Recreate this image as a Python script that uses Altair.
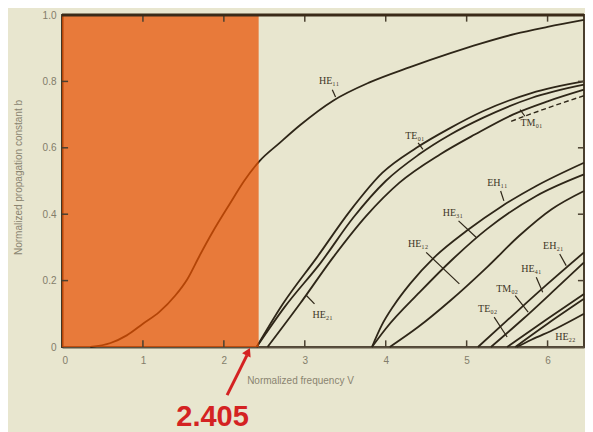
import altair as alt
import pandas as pd

# ---------------- data ----------------
V_MAX = 6.45
SHADE_END = 2.43          # orange region (single-mode, V < 2.405)

he11_v = [0.35, 0.6, 0.8, 1.0, 1.2, 1.4, 1.55, 1.7, 1.87, 2.07, 2.25, 2.44, 2.69, 2.94, 3.35, 3.8, 4.3, 4.8, 5.16, 5.6, 6.0, 6.45]
he11_b = [0.0, 0.012, 0.035, 0.07, 0.105, 0.155, 0.205, 0.275, 0.35, 0.43, 0.5, 0.56, 0.615, 0.668, 0.742, 0.797, 0.843, 0.885, 0.913, 0.943, 0.964, 0.985]

te01_v = [2.405, 2.73, 3.15, 3.56, 3.96, 4.38, 4.8, 5.2, 5.8, 6.45]
te01_b = [0.0, 0.13, 0.27, 0.41, 0.525, 0.60, 0.66, 0.71, 0.765, 0.80]

tm01_v = [2.405, 2.75, 3.2, 3.6, 4.0, 4.4, 4.8, 5.2, 5.8, 6.45]
tm01_b = [0.0, 0.12, 0.255, 0.39, 0.50, 0.578, 0.64, 0.69, 0.75, 0.79]

he21_v = [2.54, 2.94, 3.35, 3.76, 4.17, 4.67, 5.1, 5.57, 6.0, 6.45]
he21_b = [0.0, 0.13, 0.27, 0.395, 0.495, 0.58, 0.64, 0.70, 0.74, 0.775]

dash_v = [5.55, 6.0, 6.45]
dash_b = [0.68, 0.72, 0.757]

eh11_v = [3.83, 3.95, 4.1, 4.3, 4.6, 5.0, 5.44, 5.86, 6.45]
eh11_b = [0.0, 0.065, 0.125, 0.19, 0.27, 0.35, 0.425, 0.485, 0.555]

he31_v = [3.83, 4.0, 4.42, 4.83, 5.25, 5.86, 6.45]
he31_b = [0.0, 0.055, 0.165, 0.265, 0.355, 0.455, 0.52]

he12_v = [4.05, 4.4, 4.8, 5.25, 5.65, 6.05, 6.45]
he12_b = [0.0, 0.06, 0.14, 0.24, 0.335, 0.415, 0.47]

eh21_v = [5.14, 5.5, 6.0, 6.45]
eh21_b = [0.0, 0.08, 0.19, 0.285]

he41_v = [5.3, 5.7, 6.1, 6.45]
he41_b = [0.0, 0.085, 0.175, 0.255]

tm02_v = [5.5, 6.0, 6.45]
tm02_b = [0.0, 0.085, 0.16]

te02_v = [5.6, 6.0, 6.45]
te02_b = [0.0, 0.07, 0.145]

he22_v = [5.62, 5.8, 6.1, 6.45]
he22_b = [0.0, 0.022, 0.055, 0.10]

label_text = ["HE₁₁", "TE₀₁", "TM₀₁", "HE₂₁", "EH₁₁", "HE₃₁", "HE₁₂", "EH₂₁", "HE₄₁", "TM₀₂", "TE₀₂", "HE₂₂"]
label_v = [3.30, 4.36, 5.80, 3.22, 5.38, 4.83, 4.40, 6.07, 5.80, 5.50, 5.26, 6.22]
label_b = [0.80, 0.635, 0.675, 0.095, 0.495, 0.405, 0.31, 0.305, 0.235, 0.175, 0.115, 0.03]

lead_v1 = [3.34, 4.40, 5.72, 3.12, 5.42, 4.90, 4.50, 6.15, 5.86, 5.60, 5.34]
lead_b1 = [0.775, 0.615, 0.695, 0.13, 0.47, 0.38, 0.285, 0.28, 0.21, 0.155, 0.09]
lead_v2 = [3.38, 4.46, 5.66, 3.02, 5.46, 5.12, 4.91, 6.23, 5.94, 5.76, 5.50]
lead_b2 = [0.753, 0.595, 0.715, 0.155, 0.44, 0.33, 0.19, 0.245, 0.165, 0.105, 0.03]

x_tick_vals = [0, 1, 2, 3, 4, 5, 6]
y_tick_vals = [0, 0.2, 0.4, 0.6, 0.8, 1.0]
inner_x_ticks = [1, 2, 3, 4, 5, 6]
inner_y_ticks = [0.2, 0.4, 0.6, 0.8]

# ---------------- tables ----------------
curves = {
    "HE11": (he11_v, he11_b), "TE01": (te01_v, te01_b), "TM01": (tm01_v, tm01_b),
    "HE21": (he21_v, he21_b), "EH11": (eh11_v, eh11_b), "HE31": (he31_v, he31_b),
    "HE12": (he12_v, he12_b), "EH21": (eh21_v, eh21_b), "HE41": (he41_v, he41_b),
    "TM02": (tm02_v, tm02_b), "TE02": (te02_v, te02_b), "HE22": (he22_v, he22_b),
}
rows = []
for name, (vs, bs) in curves.items():
    for v, b in zip(vs, bs):
        rows.append({"mode": name, "V": v, "b": b})
df = pd.DataFrame(rows)
df_dash = pd.DataFrame({"V": dash_v, "b": dash_b})
df_lab = pd.DataFrame({"t": label_text, "V": label_v, "b": label_b})
df_lead = pd.DataFrame({"V": lead_v1, "b": lead_b1, "V2": lead_v2, "b2": lead_b2})

tick_rows = []
for v in inner_x_ticks:
    tick_rows.append({"V": v, "V2": v, "b": 0.0, "b2": 0.02})
    tick_rows.append({"V": v, "V2": v, "b": 0.98, "b2": 1.0})
for b in inner_y_ticks:
    tick_rows.append({"V": 0.0, "V2": 0.075, "b": b, "b2": b})
    tick_rows.append({"V": V_MAX - 0.075, "V2": V_MAX, "b": b, "b2": b})
df_ticks = pd.DataFrame(tick_rows)

df_shade = pd.DataFrame({"V": [0.0], "V2": [SHADE_END], "b": [0.0], "b2": [1.0]})
df_top = pd.DataFrame({"V": [0.0], "V2": [V_MAX], "b": [1.0]})
df_arrow = pd.DataFrame({"V": [2.04], "b": [-0.145], "V2": [2.285], "b2": [-0.025]})
df_head = pd.DataFrame({"V": [2.30], "b": [-0.014]})
df_num = pd.DataFrame({"V": [1.86], "b": [-0.212], "t": ["2.405"]})

# ---------------- encodings ----------------
INK = "#2e2618"
xs = alt.Scale(domain=[0, V_MAX], nice=False, zero=False)
ys = alt.Scale(domain=[0, 1], nice=False)

x_axis = alt.Axis(values=x_tick_vals, format="d", title="Normalized frequency V",
                  ticks=False, grid=False, domainColor="#5a5140", domainWidth=2,
                  labelFontSize=10, labelColor="#837d6a", labelPadding=8,
                  titleFontSize=10, titleFontWeight="normal", titleColor="#8a8470",
                  titleX=238, titleY=33, titleBaseline="middle", labelFont="Liberation Sans",
                  titleFont="Liberation Sans")
y_axis = alt.Axis(values=y_tick_vals, labelExpr="datum.value == 0 ? '0' : format(datum.value, '.1f')",
                  title="Normalized propagation constant b", ticks=False, grid=False,
                  domainColor="#3a2e1f", domainWidth=2, labelFontSize=10, labelColor="#837d6a",
                  labelPadding=6, titleFontSize=10, titleFontWeight="normal", titleColor="#8a8470",
                  titleX=-44, titleY=162, titleBaseline="middle", labelFont="Liberation Sans",
                  titleFont="Liberation Sans")


def X(field="V"):
    return alt.X(f"{field}:Q", scale=xs, axis=x_axis, title="Normalized frequency V")


def Y(field="b"):
    return alt.Y(f"{field}:Q", scale=ys, axis=y_axis, title="Normalized propagation constant b")


lines = alt.Chart(df).mark_line(color=INK, strokeWidth=1.8, interpolate="monotone").encode(
    x=X(), y=Y(), detail="mode:N")

dashed = alt.Chart(df_dash).mark_line(color=INK, strokeWidth=1.4, strokeDash=[5, 3],
                                       interpolate="monotone").encode(x=X(), y=Y())

shade = alt.Chart(df_shade).mark_rect(color="#E85000", opacity=0.72).encode(
    x=X(), x2="V2:Q", y=Y(), y2="b2:Q")

ticks = alt.Chart(df_ticks).mark_rule(color="#4a4030", strokeWidth=1.5).encode(
    x=X(), x2="V2:Q", y=Y(), y2="b2:Q")

top = alt.Chart(df_top).mark_rule(color="#3a2a18", strokeWidth=3).encode(
    x=X(), x2="V2:Q", y=Y())

labels = alt.Chart(df_lab).mark_text(font="Liberation Serif", fontSize=10, color="#3d3526",
                                     align="center", baseline="middle").encode(
    x=X(), y=Y(), text="t:N")

leaders = alt.Chart(df_lead).mark_rule(color=INK, strokeWidth=1.2).encode(
    x=X(), x2="V2:Q", y=Y(), y2="b2:Q")

arrow = alt.Chart(df_arrow).mark_rule(color="#D42222", strokeWidth=3).encode(
    x=X(), x2="V2:Q", y=Y(), y2="b2:Q")

head = alt.Chart(df_head).mark_point(shape="triangle-up", filled=True, color="#D42222",
                                     size=90, angle=26, opacity=1).encode(x=X(), y=Y())

num = alt.Chart(df_num).mark_text(font="Liberation Sans", fontSize=29, fontWeight="bold",
                                  color="#D42222", align="center", baseline="middle").encode(
    x=X(), y=Y(), text="t:N")

chart = alt.layer(lines, dashed, shade, ticks, top, leaders, labels, arrow, head, num).properties(
    width=522, height=332,
    autosize=alt.AutoSizeParams(type="none"),
    padding={"left": 54, "top": 7, "right": 1, "bottom": 85},
    background="#E8E6CF",
).configure_view(stroke="#4a3f2e", strokeWidth=2)

chart.save("out.html", embed_options={"renderer": "svg", "actions": False})
